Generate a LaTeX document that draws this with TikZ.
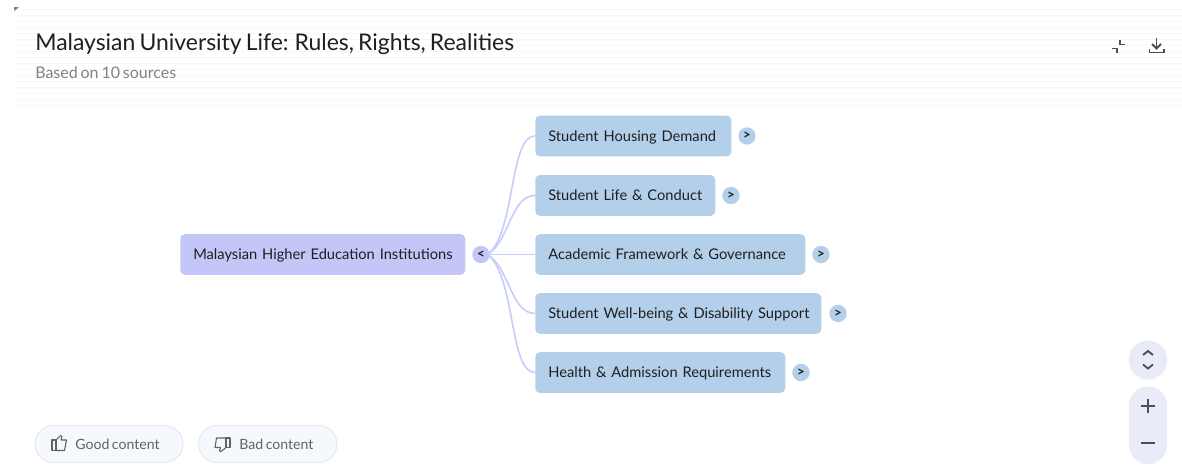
\documentclass[tikz,border=0pt]{standalone}
\usepackage{fontspec}
\setmainfont[WordSpace=0.7]{Lato}
\usetikzlibrary{shadows}
\definecolor{rootfill}{HTML}{C3C6F7}
\definecolor{childfill}{HTML}{B3CFEA}
\definecolor{linkcol}{HTML}{C5CEFB}
\definecolor{inkdark}{HTML}{1F1F1F}
\definecolor{inkgrey}{HTML}{7F8285}
\definecolor{inkbtn}{HTML}{5F6368}
\definecolor{ctrlfill}{HTML}{E9EBF8}
\definecolor{pillfill}{HTML}{F5F8FC}
\definecolor{pillline}{HTML}{E3E8EF}
\definecolor{stripe}{HTML}{F7F7F7}
\newcommand{\lbl}[1]{\makebox[\linewidth][l]{#1}}
\tikzset{
  mapbox/.style n args={2}{rectangle,rounded corners=3.5pt,fill=#2,inner ysep=0pt,inner xsep=9.75pt,
     minimum height=30.5pt,text width=#1*0.75pt-19.5pt,align=left,anchor=west,text=inkdark,
     font=\fontsize{11pt}{12pt}\selectfont,text height=8.8pt,text depth=1.2pt},
  toggle/.style={circle,fill=#1,minimum size=13pt,inner sep=0pt,text=inkdark,font=\fontsize{10pt}{10pt}\selectfont\bfseries},
  link/.style={draw=linkcol,line width=1.2pt},
  pill/.style={draw=pillline,fill=pillfill,line width=.7pt,rounded corners=14pt},
  pilltext/.style={text=inkbtn,font=\fontsize{10.6pt}{11pt}\selectfont,anchor=west,inner sep=0pt},
  glyph/.style={draw=inkbtn,line width=.8pt,line join=round},
  ctrl/.style={draw=inkbtn!80!black,line width=1.4pt,line join=miter},
  ctrlshape/.style={fill=ctrlfill,drop shadow={shadow xshift=0pt,shadow yshift=-1pt,opacity=.12}},
}
\begin{document}
\begin{tikzpicture}[x=0.75pt,y=-0.75pt]
\useasboundingbox (0,0) rectangle (1182,475);
\fill[white] (0,0) rectangle (1182,475);
% faint stripes of the header
\foreach \yy in {9,15,...,105}{\draw[stripe,line width=.5pt] (15,\yy) -- (1182,\yy);}
\fill[black!50] (14,7) -- (19,7) -- (14.5,11) -- cycle;
% header
\node[anchor=west,inner sep=0pt,text=inkdark,font=\fontsize{17.2pt}{20pt}\selectfont] (title) at (35,44) {Malaysian University Life: Rules, Rights, Realities};
\node[anchor=west,inner sep=0pt,text=inkgrey,font=\fontsize{12pt}{12pt}\selectfont] (sub) at (35,73) {Based on 10 sources};
% map nodes
\node[mapbox={285}{rootfill}] (root) at (180,254.5) {\lbl{Malaysian Higher Education Institutions}};
\node[toggle=rootfill] (rt) at (481,254.5) {<};
\node[mapbox={196}{childfill}] (c1) at (535,136) {\lbl{Student Housing Demand}};
\node[mapbox={180}{childfill}] (c2) at (535,195.5) {\lbl{Student Life \& Conduct}};
\node[mapbox={270}{childfill}] (c3) at (535,254.5) {\lbl{Academic Framework \& Governance}};
\node[mapbox={286}{childfill}] (c4) at (535,313.5) {\lbl{Student Well-being \& Disability Support}};
\node[mapbox={250}{childfill}] (c5) at (535,372.5) {\lbl{Health \& Admission Requirements}};
\node[toggle=childfill] (t1) at (747,136) {>};
\node[toggle=childfill] (t2) at (731,195.5) {>};
\node[toggle=childfill] (t3) at (821,254.5) {>};
\node[toggle=childfill] (t4) at (838,313.5) {>};
\node[toggle=childfill] (t5) at (801,372.5) {>};
% connectors
\coordinate (hub) at ([xshift=5pt]rt.center);
\draw[link] (hub) .. controls +(28,-22) and +(-26,0) .. (c1.west);
\draw[link] (hub) .. controls +(22,-14) and +(-24,0) .. (c2.west);
\draw[link] (hub) -- (c3.west);
\draw[link] (hub) .. controls +(22,14) and +(-24,0) .. (c4.west);
\draw[link] (hub) .. controls +(28,22) and +(-26,0) .. (c5.west);
% top-right icons
\draw[ctrl] (1112,48.5) -- (1117,48.5) -- (1117,53);
\draw[ctrl] (1120,40) -- (1120,44.5) -- (1125,44.5);
\draw[ctrl] (1156.5,38) -- (1156.5,48);
\draw[ctrl] (1152,44) -- (1156.5,48.5) -- (1161,44);
\draw[ctrl] (1149.5,49) -- (1149.5,52.5) -- (1164,52.5) -- (1164,49);
% zoom controls
\node[circle,minimum size=28.5pt,inner sep=0pt,ctrlshape] (nav) at (1148,359.5) {};
\draw[ctrl] (1143,355) -- (1148,351) -- (1153,355);
\draw[ctrl] (1143,364.5) -- (1148,368.5) -- (1153,364.5);
\path[ctrlshape,rounded corners=14.2pt] (1129,386.5) rectangle (1167,463);
\draw[ctrl] (1141,406) -- (1155,406);
\draw[ctrl] (1148,399) -- (1148,413);
\draw[ctrl] (1141,443) -- (1155,443);
% feedback buttons
\draw[pill] (35,425.5) rectangle (183,462.5);
\draw[pill] (198.5,425.5) rectangle (337,462.5);
\node[pilltext] (good) at (75,444) {Good content};
\node[pilltext] (bad) at (239,444) {Bad content};
% thumb up
\draw[glyph] (52,440) rectangle (56,450.5);
\draw[glyph] (56,440) -- (60.5,435.5) -- (62,436.5) -- (61,440) -- (66.5,440) -- (64.5,450.5) -- (56,450.5);
% thumb down
\draw[glyph] (230,438) rectangle (226,447.5);
\draw[glyph] (226,438) -- (216.5,438) -- (215,447.5) -- (220.5,447.5) -- (219.5,451) -- (221,451.5) -- (226,447.5);
\end{tikzpicture}
\end{document}
